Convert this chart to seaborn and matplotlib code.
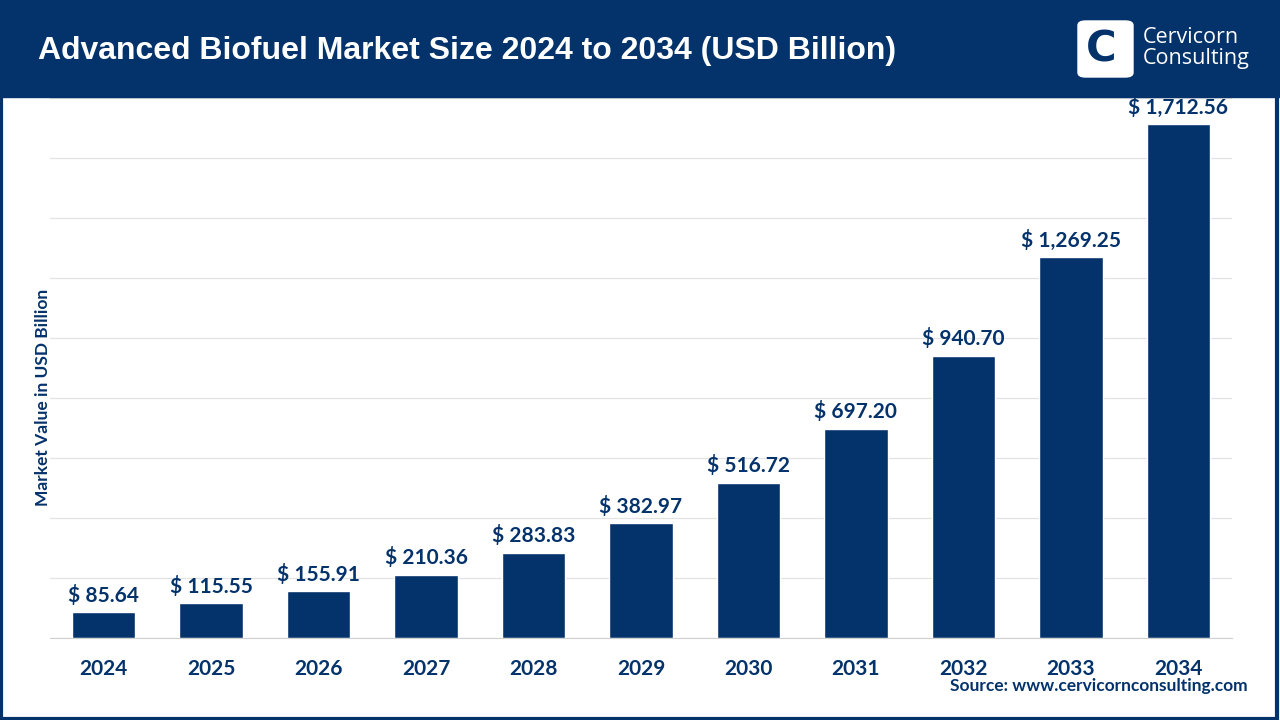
import matplotlib
matplotlib.use("Agg")
import matplotlib.pyplot as plt
import seaborn as sns
import pandas as pd
from matplotlib.patches import Rectangle, FancyBboxPatch

# data
years = ["2024", "2025", "2026", "2027", "2028", "2029", "2030", "2031", "2032", "2033", "2034"]
values = [85.64, 115.55, 155.91, 210.36, 283.83, 382.97, 516.72, 697.20, 940.70, 1269.25, 1712.56]
labels = ["$ 85.64", "$ 115.55", "$ 155.91", "$ 210.36", "$ 283.83", "$ 382.97",
          "$ 516.72", "$ 697.20", "$ 940.70", "$ 1,269.25", "$ 1,712.56"]

navy = "#04326b"
df = pd.DataFrame({"year": years, "value": values})

sns.set_style("white")
plt.rcParams['font.family'] = ['Lato', 'DejaVu Sans']

fig = plt.figure(figsize=(12.8, 7.2), dpi=100)
ax = fig.add_axes([50/1280, 82/720, 1182/1280, 540/720])

sns.barplot(data=df, x="year", y="value", color=navy, width=0.59, saturation=1, ax=ax)

ax.set_ylim(0, 1800)
ax.set_yticks(range(0, 1801, 200))
ax.set_yticklabels([])
ax.grid(axis="y", color="#e3e3e3", linewidth=0.9)
ax.set_axisbelow(True)
for s in ["top", "right", "left"]:
    ax.spines[s].set_visible(False)
ax.spines["bottom"].set_color("#d0d0d0")
ax.tick_params(axis="y", length=0)
ax.set_xticks([i - 0.5 for i in range(12)], minor=True)
ax.tick_params(axis="x", which="minor", length=7, color="#d0d0d0", width=1)
ax.tick_params(axis="x", which="major", length=0, pad=15)
for t in ax.get_xticklabels():
    t.set_fontsize(15)
    t.set_fontweight("bold")
    t.set_color(navy)
ax.set_xlabel("")
ax.set_ylabel("Market Value in USD Billion", fontsize=12.5, fontweight="bold", color=navy)
ax.yaxis.set_label_coords(0.0005, 0.446)

for i, (v, lab) in enumerate(zip(values, labels)):
    ax.text(i, v + 22, lab, ha="center", va="bottom", fontsize=15, fontweight="bold", color=navy)

# header band
fig.patches.append(Rectangle((0, 1 - 97/720), 1, 97/720, transform=fig.transFigure,
                             color=navy, zorder=0))
fig.text(38/1280, 1 - 51/720, "Advanced Biofuel Market Size 2024 to 2034 (USD Billion)",
         color="white", fontsize=23, fontweight="bold", family="Liberation Sans", va="center")

# logo
fig.patches.append(FancyBboxPatch((1078/1280, 1 - 77/720), 55/1280, 56/720,
                                  boxstyle="round,pad=0,rounding_size=0.006",
                                  transform=fig.transFigure, color="white", zorder=2))
fig.text(1101/1280, 1 - 50/720, "C", color=navy, fontsize=30, fontweight="bold",
         family="DejaVu Sans", ha="center", va="center", zorder=3)
fig.text(1143/1280, 1 - 48/720, "Cervicorn\nConsulting", color="white", fontsize=15.5,
         family="Open Sans", va="center", linespacing=1.0, zorder=3)

fig.text(1248/1280, 1 - 686/720, "Source: www.cervicornconsulting.com", color=navy,
         fontsize=12.5, fontweight="bold", ha="right", va="center")

# outer border
fig.patches.append(Rectangle((0.001, 0.002), 0.997, 0.996, transform=fig.transFigure,
                             fill=False, edgecolor=navy, linewidth=3, zorder=5))

fig.savefig("out.png", dpi=100)
